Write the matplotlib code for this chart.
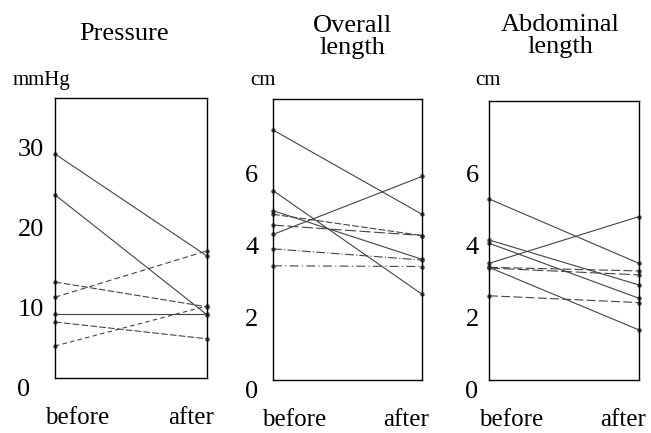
import matplotlib
matplotlib.use("Agg")
import matplotlib.pyplot as plt
from matplotlib.transforms import ScaledTranslation

plt.rcParams['font.family'] = ['Liberation Serif', 'DejaVu Serif']

# before / after values for each subject
pressure_before = [28.0, 22.9, 12.0, 10.1, 8.0, 7.0, 4.0]
pressure_after = [15.25, 7.9, 8.9, 15.9, 8.0, 4.9, 9.0]
pressure_styles = ['-', '-', (0, (6, 2)), (0, (5, 3)), '-', (0, (6, 2)), (0, (4, 3))]

overall_before = [6.94, 5.26, 4.70, 4.60, 4.30, 4.04, 3.64, 3.17]
overall_after = [4.60, 2.38, 3.35, 4.01, 4.01, 5.65, 3.33, 3.15]
overall_styles = ['-', '-', '-', (0, (6, 2)), (0, (10, 3)), '-', (0, (8, 2, 1, 2)), (0, (8, 3, 1, 3))]

abdominal_before = [5.03, 3.89, 3.80, 3.24, 3.13, 3.11, 3.13, 2.34]
abdominal_after = [3.24, 2.64, 2.27, 4.54, 3.03, 2.92, 1.39, 2.15]
abdominal_styles = ['-', '-', '-', '-', (0, (8, 3)), (0, (10, 3)), '-', (0, (8, 3))]

titles = ['Pressure', 'Overall\nlength', 'Abdominal\nlength']
units = ['mmHg', 'cm', 'cm']
yticks = [[0, 10, 20, 30], [0, 2, 4, 6], [0, 2, 4, 6]]
ytops = [35, 7.8, 7.75]

W, H = 651, 433
fig = plt.figure(figsize=(W / 100, H / 100), dpi=100)

# axes boxes in pixels: left, top, right, bottom
boxes = [(55, 98, 207, 378), (273, 99, 422, 380), (489, 101, 639, 380)]
label_pads = [27, 20, 17]
title_x = [124, 352, 560]
title_y = [34, 37, 36]
unit_x = [13, 250, 475]

panels = [
    (pressure_before, pressure_after, pressure_styles),
    (overall_before, overall_after, overall_styles),
    (abdominal_before, abdominal_after, abdominal_styles),
]

for i, (before, after, styles) in enumerate(panels):
    l, t, r, b = boxes[i]
    ax = fig.add_axes([l / W, 1 - b / H, (r - l) / W, (b - t) / H])
    for v0, v1, ls in zip(before, after, styles):
        ax.plot([0, 1], [v0, v1], color='#444444', lw=0.8, linestyle=ls,
                marker='o', markersize=2.2, clip_on=False)
    ax.set_xlim(0, 1)
    ax.set_ylim(0, ytops[i])
    ax.set_yticks(yticks[i])
    ax.set_yticklabels([str(v) for v in yticks[i]], fontsize=19, ha='left')
    ax.set_xticks([0.145, 0.895])
    ax.set_xticklabels(['before', 'after'], fontsize=18)
    ax.tick_params(axis='y', length=0, pad=label_pads[i])
    ax.tick_params(axis='x', length=0, pad=21)
    shift = ScaledTranslation(0, -0.10, fig.dpi_scale_trans)
    for lab in ax.get_yticklabels():
        lab.set_transform(lab.get_transform() + shift)
    for sp in ax.spines.values():
        sp.set_linewidth(1.0)
        sp.set_color('black')

    fig.text(title_x[i] / W, 1 - title_y[i] / H, titles[i], fontsize=19,
             ha='center', va='center', linespacing=0.95)
    fig.text(unit_x[i] / W, 1 - 85 / H, units[i], fontsize=15, ha='left',
             va='baseline')

fig.savefig('out.png', dpi=100)
